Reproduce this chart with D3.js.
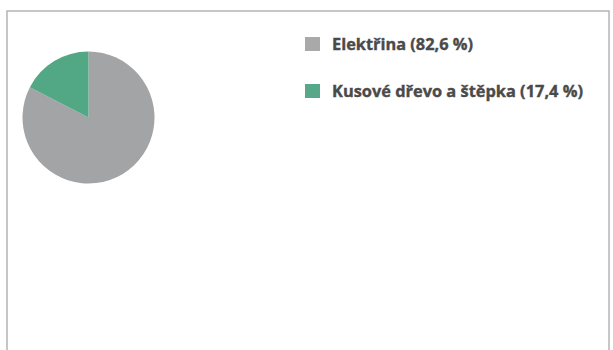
<!DOCTYPE html>
<html>
<head>
<meta charset="utf-8">
<script src="https://cdn.jsdelivr.net/npm/d3@7"></script>
<style>
  html, body { margin: 0; padding: 0; background: #fff; }
  svg { display: block; }
</style>
</head>
<body>
<svg id="chart" width="613" height="350"></svg>
<script>
// Heating energy sources, share in %
const categories = ["Elektřina", "Kusové dřevo a štěpka"];
const shares = [82.6, 17.4];
const shareLabels = ["82,6 %", "17,4 %"];
const colors = ["#a3a4a6", "#52a785"];
const legendSwatchColors = ["#a9a9a9", "#56a889"];

const svg = d3.select("#chart");

// chart frame
svg.append("rect")
  .attr("x", 7).attr("y", 11)
  .attr("width", 602).attr("height", 345)
  .attr("fill", "#fff")
  .attr("stroke", "#b4b4b4")
  .attr("stroke-width", 1.5);

const data = categories.map((c, i) => ({ name: c, value: shares[i], label: shareLabels[i], color: colors[i], swatch: legendSwatchColors[i] }));

// pie
const pie = d3.pie().sort(null).value(d => d.value);
const arc = d3.arc().innerRadius(0).outerRadius(66);

svg.append("g")
  .attr("transform", "translate(88.5,117.5)")
  .selectAll("path")
  .data(pie(data))
  .join("path")
  .attr("d", arc)
  .attr("fill", d => d.data.color);

// legend
const legendY = d3.scalePoint().domain(categories).range([44, 91]);
const textWidths = [141, 251];

const lg = svg.append("g")
  .selectAll("g")
  .data(data)
  .join("g")
  .attr("transform", d => `translate(305,${legendY(d.name)})`);

lg.append("rect")
  .attr("x", 0).attr("y", -7)
  .attr("width", 15).attr("height", 14)
  .attr("fill", d => d.swatch);

lg.append("text")
  .attr("x", 27).attr("y", 5.5)
  .attr("font-family", "'Open Sans', Lato, sans-serif")
  .attr("font-weight", "bold")
  .attr("font-size", 15.5)
  .attr("fill", "#4a4a4a")
  .attr("stroke", "#4a4a4a")
  .attr("stroke-width", 0.35)
  .attr("textLength", (d, i) => textWidths[i])
  .attr("lengthAdjust", "spacingAndGlyphs")
  .text(d => `${d.name} (${d.label})`);
</script>
</body>
</html>
